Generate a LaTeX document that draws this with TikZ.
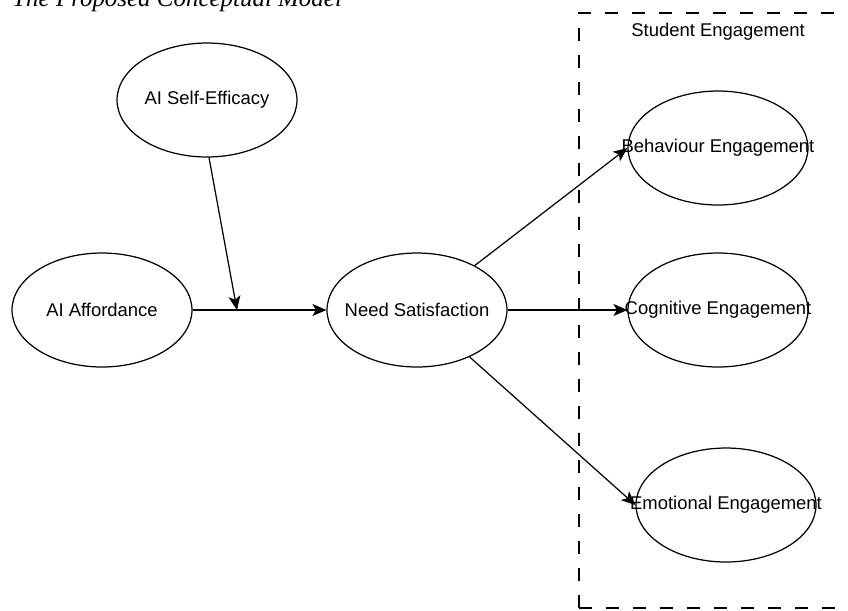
\documentclass[tikz,border=0pt]{standalone}
\usepackage{fontspec}
\setmainfont{Liberation Sans}
\newfontfamily\titlefont{Liberation Serif}
\usetikzlibrary{
    arrows.meta,
    shapes.geometric,
    positioning
}
\newcommand{\ovaltext}[1]{\makebox[0pt]{#1}}

\begin{document}
\begin{tikzpicture}[x=0.02cm, y=-0.02cm,
    oval/.style={draw, ellipse, line width=0.7pt, fill=white, inner sep=0pt,
        minimum width=3.6cm, minimum height=2.28cm,
        font=\fontsize{10.5}{12}\selectfont},
    link/.style={-{Stealth[length=0.28cm, width=0.24cm, inset=0.07cm]}, line width=0.7pt}]
    \useasboundingbox (0,0) rectangle (848,610);
    \clip (0,0) rectangle (848,610);

    \node[anchor=base west, inner sep=0pt, font=\titlefont\itshape\fontsize{14.2}{16}\selectfont] (title) at (12,6) {The Proposed Conceptual Model};

    % group box
    \draw[line width=0.7pt, dash pattern=on 0.26cm off 0.28cm] (579,608) -- (579,13) -- (880,13);
    \draw[line width=0.7pt, dash pattern=on 0.26cm off 0.28cm] (579,608) -- (880,608);
    \node[inner sep=0pt, font=\fontsize{10.5}{12}\selectfont] (group) at (718,32) {Student Engagement};

    \node[oval] (selfeff) at (207,100) {\ovaltext{AI Self-Efficacy}};
    \node[oval] (afford) at (102,310) {\ovaltext{AI Affordance}};
    \node[oval] (need) at (417,310) {\ovaltext{Need Satisfaction}};
    \node[oval] (behav) at (718,148) {\ovaltext{Behaviour Engagement}};
    \node[oval] (cog) at (718,310) {\ovaltext{Cognitive Engagement}};
    \node[oval] (emo) at (726,505) {\ovaltext{Emotional Engagement}};
    \coordinate (join) at (237,310);

    \draw[link] (afford) -- (need);
    \draw[link] (selfeff.-88) -- (join);
    \draw[link] (need) -- (behav.west);
    \draw[link] (need) -- (cog);
    \draw[link] (need) -- (emo.west);
\end{tikzpicture}
\end{document}
